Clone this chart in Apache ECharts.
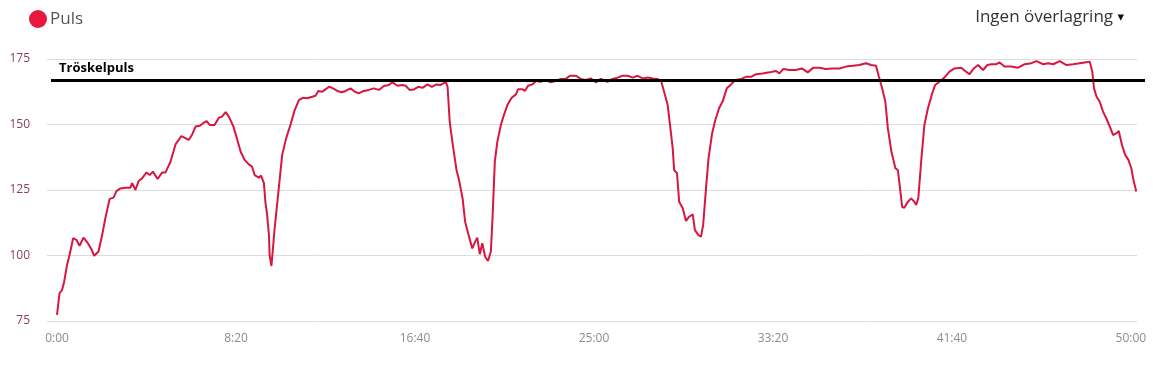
<!DOCTYPE html>
<html>
<head>
<meta charset="utf-8">
<script src="https://cdn.jsdelivr.net/npm/echarts@6/dist/echarts.min.js"></script>
<style>html,body{margin:0;padding:0;background:#fff}#c{width:1153px;height:367px}</style>
</head>
<body>
<div id="c"></div>
<script>
// elapsed time in seconds
const times = [0,7,14,20,28,35,45,54,63,74,86,95,104,116,126,135,147,158,166,177,191,205,210,219,228,238,250,259,268,281,294,303,317,331,340,347,356,368,378,387,399,410,418,427,440,452,461,471,480,492,503,513,524,536,545,552,564,570,578,582,587,592,594,599,608,618,629,640,652,664,676,687,699,713,722,730,741,748,760,771,783,795,806,820,832,843,857,871,885,899,913,927,937,951,965,974,985,997,1009,1021,1035,1047,1060,1072,1086,1091,1097,1105,1116,1123,1133,1140,1151,1160,1168,1174,1181,1188,1196,1204,1212,1217,1223,1230,1240,1247,1258,1270,1282,1288,1300,1307,1316,1328,1338,1351,1365,1379,1393,1407,1421,1433,1450,1463,1477,1491,1505,1519,1538,1552,1566,1580,1594,1608,1622,1636,1650,1664,1678,1688,1696,1706,1713,1720,1724,1732,1738,1748,1757,1766,1776,1782,1792,1799,1805,1813,1820,1830,1839,1850,1860,1871,1883,1895,1911,1925,1939,1953,1971,1990,2009,2018,2029,2046,2064,2081,2097,2113,2130,2148,2167,2186,2204,2223,2241,2260,2274,2288,2296,2305,2314,2321,2331,2342,2349,2355,2361,2367,2377,2386,2395,2400,2406,2414,2423,2433,2444,2453,2465,2479,2493,2507,2526,2537,2549,2561,2573,2587,2599,2610,2624,2633,2647,2666,2685,2703,2722,2736,2755,2769,2783,2801,2820,2838,2857,2871,2885,2892,2897,2904,2913,2922,2932,2941,2950,2959,2966,2975,2984,2993,3001,3008,3015];
// heart rate (bpm)
const bpm = [77.3,85.6,86.8,90,96.4,100.2,106.6,106,103.7,106.8,104.7,102.7,99.9,101.5,107.8,114.2,121.6,122.1,124.6,125.6,125.9,125.9,127.6,125,128.4,129.5,131.7,130.7,132,129.2,131.7,131.7,135.8,142.4,144.1,145.6,145,144.1,146.3,149.2,149.5,150.7,151.3,149.8,149.8,152.6,153,154.7,153,149.5,144.5,139.6,136.5,134.8,133.9,130.7,129.7,130.5,127.6,120.5,115.5,107.8,100,96,110.4,123.7,138.4,144.7,149.8,155.5,159.4,160.2,160,160.6,161,162.8,162.5,163.2,164.4,163.8,162.8,162.3,162.8,163.8,162.5,161.9,162.8,163.2,163.8,163.2,164.7,165.1,166.1,164.8,165.1,164.8,163.2,163.4,164.4,164,165.3,164.4,165.3,165.1,166.3,164.4,151.1,142.8,132.6,128.8,121.8,112.9,107.2,102.7,105.3,106.8,100.5,104.7,99.5,97.9,101.5,115.5,135.8,143.4,149.8,153,157.4,160.2,161.5,163.5,163.5,162.8,164.8,165.3,166.6,166.3,167,166.1,166.6,167.4,167.4,168.6,168.6,167.4,167,167.6,166.1,167.4,166.3,167.4,167.9,168.6,168.6,167.9,168.6,167.6,167.9,167.6,167.4,166.3,162.5,157.4,149.2,140.9,132.6,131.4,120.5,118,113.2,114.8,115.7,109.7,107.8,107.2,111.6,125.6,137.1,146.6,151.7,156.4,159,163.8,165.3,167,167.4,168.2,168.2,169.2,169.5,169.9,170.4,169.5,171.2,170.8,170.8,171.4,169.9,171.7,171.7,171.2,171.4,171.4,172.1,172.4,172.7,173.4,172.7,172.4,168.2,163.8,158.7,148.5,139.6,133.3,132.6,125.6,118.6,118.2,120.5,121.8,120.5,119.3,121.8,135.8,149.8,156.2,161.5,165.1,166.3,167.9,170.2,171.4,171.7,170.4,169.2,171.4,172.7,170.8,172.7,173,173,173.7,172.1,172.1,171.7,173,173.4,174.2,173,173.4,173,174.2,172.7,173,173.4,173.7,174,170.2,163.8,160.6,158.7,154.9,152.1,149.2,146,146.6,147.5,142.2,138.4,136.5,133.3,128.2,124.4];
const xTicks = [0,500,1000,1500,2000,2500,3000];
const yTicks = [75,100,125,150,175];
const threshold = 167;
const seriesName = 'Puls';
const thresholdLabel = 'Tröskelpuls';
const overlayLabel = 'Ingen överlagring';

function fmt(s){const m=Math.floor(s/60);const r=Math.round(s-m*60);return m+':'+(r<10?'0':'')+r;}

const chart = echarts.init(document.getElementById('c'), null, {renderer:'canvas'});
chart.setOption({
  animation:false,
  textStyle:{fontFamily:'Open Sans'},
  title:{
    text: overlayLabel + ' {a|▾}',
    right: 24, top: 4,
    textStyle:{fontFamily:'Open Sans', fontSize:17, fontWeight:'normal', color:'#333',
      rich:{a:{fontSize:13, color:'#111', fontFamily:'DejaVu Sans'}}}
  },
  legend:{
    left: 24, top: 5,
    icon:'circle', itemWidth:18, itemHeight:18, itemGap:6,
    textStyle:{fontFamily:'Open Sans', fontSize:17, color:'#555', padding:[0,0,0,-2]},
    data:[seriesName]
  },
  grid:[
    {left:47, right:16, top:59, bottom:46, containLabel:false},
    {left:51, right:8, top:59, bottom:46, containLabel:false}
  ],
  xAxis:[{
    type:'value', min:-28, max:3017,
    axisLine:{show:false}, axisTick:{show:false}, splitLine:{show:false},
    axisLabel:{customValues:xTicks, formatter:fmt, color:'#8c8c8c', fontSize:12, margin:12, fontFamily:'Open Sans'}
  },{
    gridIndex:1, type:'value', min:0, max:1, show:false
  }],
  yAxis:[{
    type:'value', min:75, max:175, interval:25,
    axisLine:{show:false}, axisTick:{show:false},
    splitLine:{lineStyle:{color:'#dcdcdc', width:1}},
    axisLabel:{color:'#8a3d5e', fontSize:12, margin:17, fontFamily:'Open Sans'}
  },{
    gridIndex:1, type:'value', min:75, max:175, show:false
  }],
  series:[{
    name: seriesName, type:'line', showSymbol:false, symbol:'none',
    data: times.map((t,i)=>[t,bpm[i]]),
    itemStyle:{color:'#e8173f'},
    lineStyle:{color:'#d8163f', width:2}
  },{
    name:'threshold', type:'line', xAxisIndex:1, yAxisIndex:1, data:[], silent:true,
    markLine:{
      silent:true, symbol:['none','none'],
      lineStyle:{color:'#000', width:3, type:'solid'},
      label:{show:true, position:'insideStartTop', formatter:thresholdLabel, color:'#000', fontWeight:'bold', fontSize:13, fontFamily:'Open Sans', distance:[8,5]},
      data:[{yAxis:threshold}]
    }
  }]
});
</script>
</body>
</html>
